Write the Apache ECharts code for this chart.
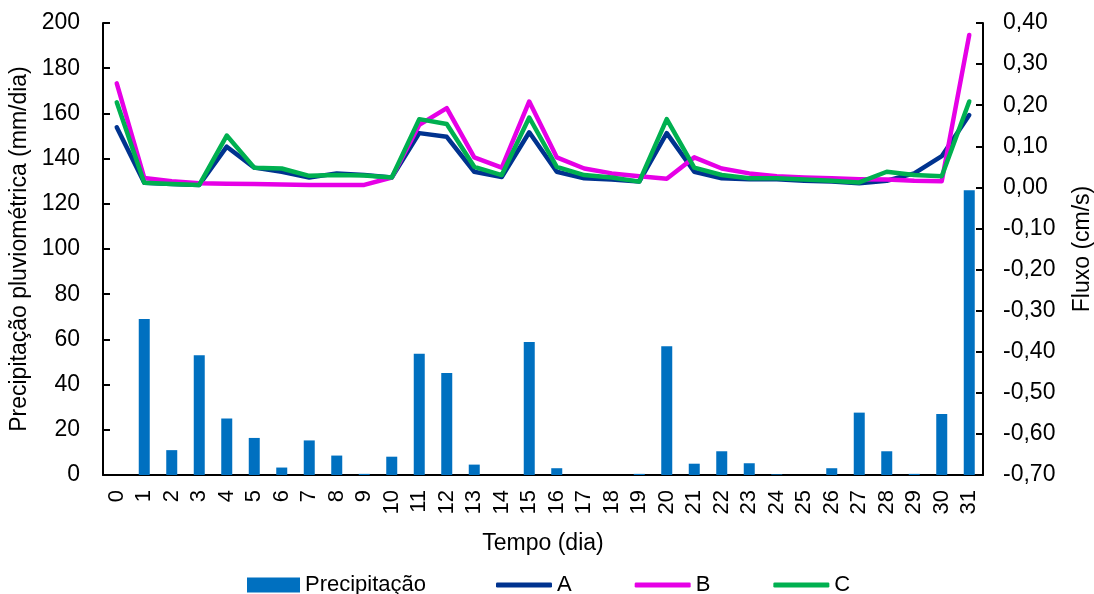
<!DOCTYPE html>
<html>
<head>
<meta charset="utf-8">
<script src="https://cdn.jsdelivr.net/npm/echarts@6/dist/echarts.min.js"></script>
<style>
  html, body { margin: 0; padding: 0; background: #fff; }
  #chart { width: 1094px; height: 594px; }
</style>
</head>
<body>
<div id="chart"></div>
<script>
// days 0..31
const days = Array.from({ length: 32 }, (_, i) => String(i));

// daily rainfall (mm/dia), left axis
const precipitacao = [0, 69, 11, 53, 25, 16.4, 3.3, 15.3, 8.6, 0.5, 8.1, 53.7, 45.1, 4.6, 0, 58.8,
  3, 0, 0, 0.5, 57, 5, 10.5, 5.2, 0.3, 0, 3, 27.6, 10.5, 0.5, 27, 126];

// flux (cm/s), right axis
const fluxoA = [0.146, 0.011, 0.008, 0.006, 0.099, 0.048, 0.038, 0.024, 0.034, 0.030, 0.024, 0.132,
  0.123, 0.038, 0.025, 0.134, 0.038, 0.022, 0.019, 0.014, 0.132, 0.038, 0.022, 0.020, 0.020, 0.016,
  0.014, 0.010, 0.016, 0.034, 0.076, 0.176];
const fluxoB = [0.253, 0.023, 0.015, 0.010, 0.009, 0.008, 0.007, 0.006, 0.006, 0.006, 0.024, 0.152,
  0.193, 0.073, 0.048, 0.209, 0.073, 0.046, 0.034, 0.027, 0.021, 0.073, 0.046, 0.034, 0.027, 0.024,
  0.022, 0.020, 0.019, 0.016, 0.015, 0.371];
const fluxoC = [0.207, 0.011, 0.008, 0.006, 0.126, 0.048, 0.046, 0.028, 0.030, 0.029, 0.024, 0.166,
  0.154, 0.050, 0.030, 0.170, 0.050, 0.030, 0.024, 0.014, 0.166, 0.048, 0.030, 0.022, 0.022, 0.019,
  0.016, 0.012, 0.038, 0.030, 0.027, 0.209];

const font = '"Liberation Sans", Arial, sans-serif';
const axisLine = { show: true, lineStyle: { color: '#000', width: 2 } };
const insideTicks = { show: true, inside: true, length: 7, lineStyle: { color: '#000', width: 2 } };
const legendText = { fontSize: 22, lineHeight: 22, color: '#000' };

const chart = echarts.init(document.getElementById('chart'));

function lineSeries(name, data, color) {
  return {
    name: name,
    type: 'line',
    yAxisIndex: 1,
    data: data,
    symbol: 'none',
    lineStyle: { color: color, width: 4.5, cap: 'round', join: 'round' },
    itemStyle: { color: color },
    z: 3
  };
}

chart.setOption({
  animation: false,
  backgroundColor: '#fff',
  textStyle: { fontFamily: font },
  grid: { left: 103, right: 111, top: 23, bottom: 119, outerBoundsMode: 'none' },
  // two legends: the bar swatch is taller than the line swatches
  legend: [{
    left: 242,
    top: 569,
    itemWidth: 53,
    itemHeight: 15,
    textStyle: legendText,
    data: [{ name: 'Precipitação', icon: 'rect' }]
  }, {
    left: 491,
    top: 569,
    itemWidth: 56,
    itemHeight: 5,
    itemGap: 63,
    icon: 'roundRect',
    textStyle: legendText,
    data: ['A', 'B', 'C']
  }],
  xAxis: {
    type: 'category',
    data: days,
    name: 'Tempo (dia)',
    nameLocation: 'middle',
    nameGap: 57,
    nameTextStyle: { fontSize: 23, color: '#000' },
    axisLine: axisLine,
    axisTick: { show: false },
    axisLabel: { rotate: 90, fontSize: 22, color: '#000', margin: 15, interval: 0 }
  },
  yAxis: [{
    type: 'value',
    min: 0,
    max: 200,
    interval: 20,
    name: 'Precipitação pluviométrica (mm/dia)',
    nameLocation: 'middle',
    nameGap: 70,
    nameTextStyle: { fontSize: 23, color: '#000' },
    axisLine: axisLine,
    axisTick: insideTicks,
    splitLine: { show: false },
    axisLabel: { fontSize: 23, color: '#000', margin: 23 }
  }, {
    type: 'value',
    min: -0.7,
    max: 0.4,
    interval: 0.1,
    name: 'Fluxo (cm/s)',
    nameLocation: 'middle',
    nameGap: 88,
    nameTextStyle: { fontSize: 23, color: '#000' },
    axisLine: axisLine,
    axisTick: insideTicks,
    splitLine: { show: false },
    axisLabel: {
      fontSize: 23, color: '#000', margin: 20,
      formatter: v => v.toFixed(2).replace('.', ',')
    }
  }],
  series: [{
    name: 'Precipitação',
    type: 'bar',
    yAxisIndex: 0,
    data: precipitacao,
    barWidth: 11,
    itemStyle: { color: '#0070C0' }
  },
  lineSeries('A', fluxoA, '#00338F'),
  lineSeries('B', fluxoB, '#E600E6'),
  lineSeries('C', fluxoC, '#00B050')]
});
</script>
</body>
</html>
